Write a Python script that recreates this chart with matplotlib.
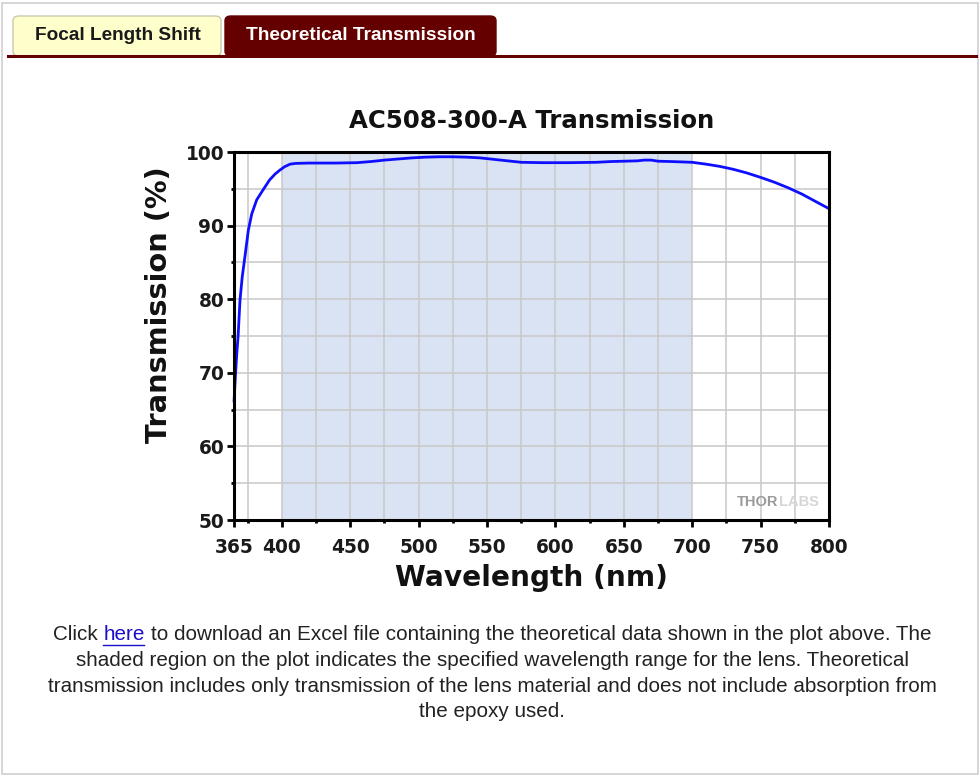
import matplotlib
matplotlib.use('Agg')
import matplotlib.pyplot as plt
from matplotlib.patches import FancyBboxPatch, Rectangle
from matplotlib.lines import Line2D
from matplotlib.ticker import FixedLocator

# ---------------- data ----------------
wavelength_nm = [365, 366, 367, 368, 369.4, 371, 373, 375.5, 378, 381.6, 386.4, 391,
                 395, 398.6, 402, 406, 410, 420, 440, 455, 465, 475, 485, 495,
                 505, 515, 525, 535, 545, 555, 565, 575, 590, 610, 630, 640,
                 650, 660, 665, 670, 675, 685, 700, 710, 720, 730, 740, 750,
                 760, 770, 780, 790, 800]
transmission_pct = [66.0, 69.5, 72.5, 75.0, 79.9, 83.0, 85.8, 89.4, 91.6, 93.5, 94.9, 96.2,
                    97.0, 97.55, 98.0, 98.35, 98.45, 98.5, 98.5, 98.55, 98.7, 98.9, 99.05, 99.2,
                    99.3, 99.35, 99.35, 99.3, 99.2, 99.0, 98.8, 98.6, 98.55, 98.55, 98.6, 98.7,
                    98.75, 98.8, 98.9, 98.9, 98.75, 98.7, 98.6, 98.35, 98.05, 97.65, 97.15, 96.55,
                    95.9, 95.15, 94.3, 93.3, 92.3]
x_major_ticks = [365, 400, 450, 500, 550, 600, 650, 700, 750, 800]
x_minor_ticks = [375, 425, 475, 525, 575, 625, 675, 725, 775]
y_major_ticks = [50, 60, 70, 80, 90, 100]
y_minor_ticks = [55, 65, 75, 85, 95]
shaded_range = (400, 700)

chart_title = 'AC508-300-A Transmission'
x_label = 'Wavelength (nm)'
y_label = 'Transmission (%)'
tab_labels = ['Focal Length Shift', 'Theoretical Transmission']
caption_line1 = ['Click ', 'here', ' to download an Excel file containing the theoretical data shown in the plot above. The']
caption_rest = ['shaded region on the plot indicates the specified wavelength range for the lens. Theoretical',
                'transmission includes only transmission of the lens material and does not include absorption from',
                'the epoxy used.']

# ---------------- figure ----------------
plt.rcParams['font.family'] = ['Liberation Sans', 'DejaVu Sans']
W, H = 980, 775
fig = plt.figure(figsize=(W / 100, H / 100), dpi=100)
fig.patch.set_facecolor('white')


def fx(x):
    return x / W


def fy(y):
    return 1 - y / H


# page border
fig.add_artist(Rectangle((fx(2), fy(774)), (976) / W, (771) / H, transform=fig.transFigure,
                         facecolor='none', edgecolor='#cfcfcf', lw=1.2))

# tabs
tab1 = FancyBboxPatch((fx(13), fy(56)), (221 - 13) / W, (56 - 16) / H,
                      boxstyle='round,pad=0,rounding_size=0.006', transform=fig.transFigure,
                      facecolor='#ffffcc', edgecolor='#c9c9b0', lw=1.0)
tab2 = FancyBboxPatch((fx(225), fy(56)), (496 - 225) / W, (56 - 16) / H,
                      boxstyle='round,pad=0,rounding_size=0.006', transform=fig.transFigure,
                      facecolor='#650000', edgecolor='#650000', lw=1.0)
fig.add_artist(tab1)
fig.add_artist(tab2)
fig.text(fx(117.5), fy(35), tab_labels[0], ha='center', va='center', fontsize=13.7,
         fontweight='bold', color='#1a1a1a')
fig.text(fx(361), fy(35), tab_labels[1], ha='center', va='center', fontsize=13.7,
         fontweight='bold', color='white')
fig.add_artist(Line2D([fx(8), fx(976)], [fy(55.5), fy(55.5)], transform=fig.transFigure,
                      color='#650000', lw=2.2))

# axes
ax = fig.add_axes([fx(234), fy(520), (829 - 234) / W, (520 - 152) / H])
ax.set_xlim(365, 800)
ax.set_ylim(50, 100)
ax.axvspan(shaded_range[0], shaded_range[1], facecolor='#dae3f3', lw=0, zorder=0)
ax.set_axisbelow(True)
ax.xaxis.set_major_locator(FixedLocator(x_major_ticks))
ax.xaxis.set_minor_locator(FixedLocator(x_minor_ticks))
ax.yaxis.set_major_locator(FixedLocator(y_major_ticks))
ax.yaxis.set_minor_locator(FixedLocator(y_minor_ticks))
ax.grid(which='both', color='#c8c8c8', lw=1.1)
ax.plot(wavelength_nm, transmission_pct, color='#0f0fff', lw=2.0, zorder=3, clip_on=False,
        solid_capstyle='butt')
for s in ax.spines.values():
    s.set_linewidth(2.2)
    s.set_color('black')
    s.set_zorder(4)
ax.tick_params(which='major', direction='out', length=5, width=2, colors='black', pad=2)
ax.tick_params(which='minor', direction='out', length=2.5, width=2, colors='black')
ax.tick_params(axis='x', which='major', pad=8)
for lab in ax.get_xticklabels() + ax.get_yticklabels():
    lab.set_fontfamily('DejaVu Sans')
    lab.set_fontweight('bold')
    lab.set_fontsize(13.4)
    lab.set_color('#1a1a1a')

fig.canvas.draw()
r = fig.canvas.get_renderer()

fig.text(fx(531.5), fy(121), chart_title, ha='center', va='center', fontsize=17.6,
         fontweight='bold', family='DejaVu Sans', color='#111111')
fig.text(fx(531), fy(578), x_label, ha='center', va='center', fontsize=20.2,
         fontweight='bold', family='DejaVu Sans', color='#111111')
fig.text(fx(159), fy(305), y_label, ha='center', va='center', fontsize=20.8, rotation=90,
         fontweight='bold', family='DejaVu Sans', color='#111111')

# THORLABS watermark
t_thor = fig.text(fx(737), fy(502), 'THOR', ha='left', va='center', fontsize=10.5,
                  fontweight='bold', color='#9a9a9a', zorder=5)
bb = t_thor.get_window_extent(r)
fig.text(bb.x1 / W + 0.0005, fy(502), 'LABS', ha='left', va='center', fontsize=10.5,
         fontweight='bold', color='#d6d6d6', zorder=5)

# caption
cap_fs = 14.9
cap_kw = dict(fontsize=cap_fs, color='#222222', va='center')


def width_of(s):
    t = fig.text(0, 0, s, **cap_kw)
    w = t.get_window_extent(r).width
    t.remove()
    return w


full1 = ''.join(caption_line1)
total = width_of(full1)
start = 492 - total / 2
w_click_here = width_of('Click here')
w_here = width_of('here')
here_x = start + w_click_here - w_here
w_to = width_of('to')
to_x = start + width_of('Click here to') - w_to
y1 = 635
fig.text(fx(start), fy(y1), 'Click', ha='left', **cap_kw)
fig.text(fx(here_x), fy(y1), 'here', ha='left', fontsize=cap_fs, color='#1a0dcc', va='center')
fig.add_artist(Line2D([fx(here_x), fx(here_x + w_here - 1)], [fy(y1 + 10), fy(y1 + 10)],
                      transform=fig.transFigure, color='#1a0dcc', lw=1.0))
fig.text(fx(to_x), fy(y1), caption_line1[2].strip(), ha='left', **cap_kw)
for i, line in enumerate(caption_rest):
    fig.text(fx(492), fy(y1 + 25.5 * (i + 1)), line, ha='center', **cap_kw)

fig.savefig('out.png', dpi=100, facecolor='white')
